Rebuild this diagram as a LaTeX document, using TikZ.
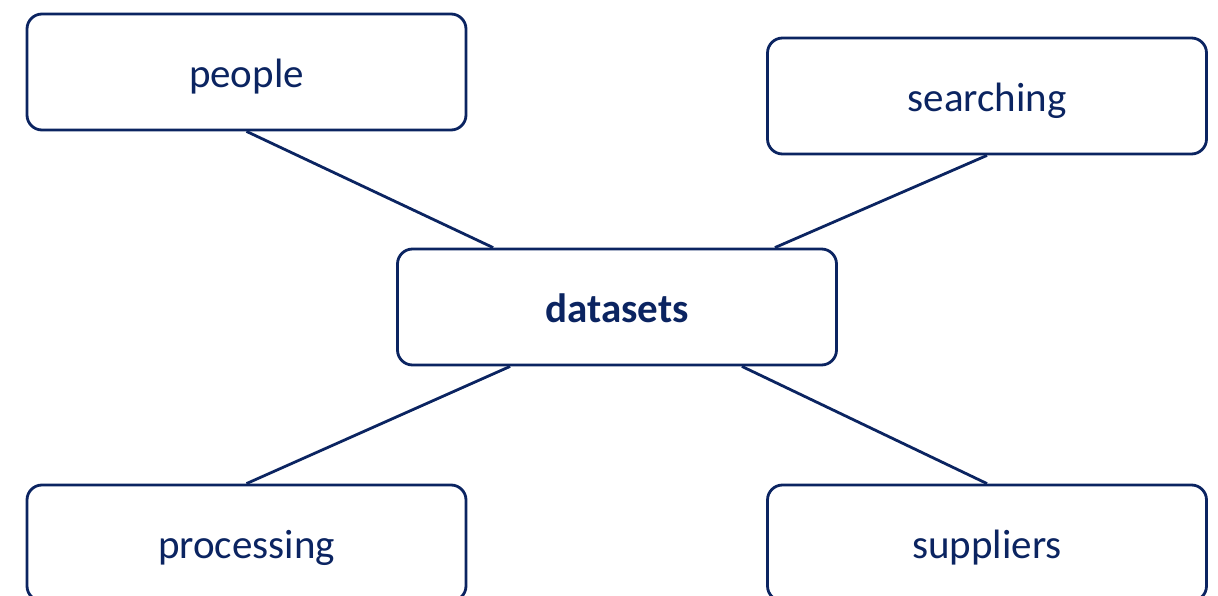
\documentclass[tikz,border=0pt]{standalone}
\usepackage{fontspec}
\setmainfont{Carlito}
\usetikzlibrary{calc}
\definecolor{navy}{HTML}{0B2461}
\begin{document}
\begin{tikzpicture}[x=1pt,y=-1pt,
  topic/.style={draw=navy, line width=2.8pt, rounded corners=15pt, fill=white,
    minimum width=439pt, minimum height=116pt, inner sep=0pt,
    text height=33pt, text depth=2pt,
    text=navy, font=\fontsize{41}{48}\selectfont},
  link/.style={draw=navy, line width=2.8pt}]
  \useasboundingbox (0,0) rectangle (1218,596);
  \clip (0,0) rectangle (1218,596);
  % central topic and its four neighbours
  \node[topic, font=\fontsize{41}{48}\selectfont\bfseries] (datasets) at (617,307) {datasets};
  \node[topic] (people) at (246.5,72) {people};
  \node[topic] (searching) at (987,96) {searching};
  \node[topic] (processing) at (246.5,543) {processing};
  \node[topic] (suppliers) at (987,543) {suppliers};
  % links to the central topic
  \draw[link] (people.south) -- ($(datasets.north west)+(97,0)$);
  \draw[link] (searching.south) -- ($(datasets.north east)+(-63,0)$);
  \draw[link] ($(datasets.south west)+(114,0)$) -- (processing.north);
  \draw[link] ($(datasets.south east)+(-96,0)$) -- (suppliers.north);
\end{tikzpicture}
\end{document}
